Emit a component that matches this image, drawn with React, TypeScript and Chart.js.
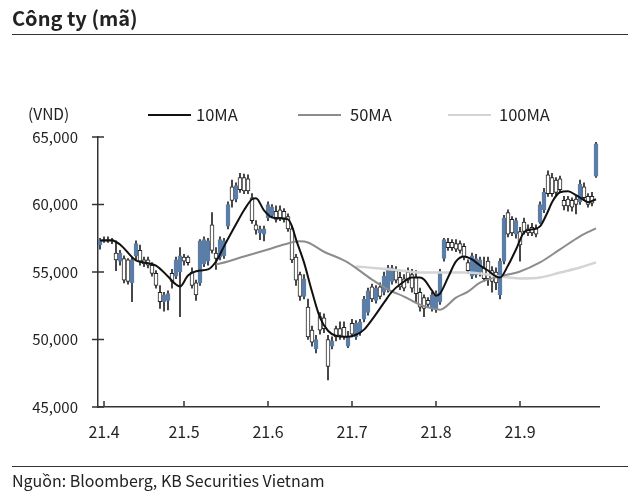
import React, { useEffect, useRef } from "react";
import { Chart, registerables } from "chart.js";

Chart.register(...registerables);

// ---- data ----
const OPEN = [
  57000, 57400, 57400, 57400, 56400, 55800, 56000, 55900, 54200, 56200,
  56600, 55900, 55900, 55500, 54900, 53500, 52800, 52900, 54900, 54700,
  55000, 56100, 56100, 55000, 54200, 54200, 55600, 55800, 58500, 56400,
  56100, 56200, 58400, 61300, 60400, 62000, 62000, 61900, 60500, 58500,
  57900, 57800, 59000, 59200, 59500, 59600, 59500, 59100, 58200, 56100,
  54800, 53200, 52400, 50700, 49300, 51700, 51600, 50000, 49500, 50800,
  50800, 50900, 49500, 51200, 50200, 50500, 51500, 52000, 53900, 52900,
  53900, 53500, 53700, 54300, 55100, 54600, 54500, 55000, 54800, 54600,
  53500, 53100, 52900, 52300, 52200, 52800, 56000, 57200, 57200, 57100,
  57100, 56900, 55700, 54700, 54800, 55000, 55300, 55800, 55100, 55000,
  53300, 55800, 59400, 58900, 57800, 58000, 58700, 58200, 58300, 58200,
  58700, 59600, 62200, 62000, 61800, 61900, 60300, 60400, 60300, 60400,
  60200, 61300, 60600, 60600, 62100,
];
const CLOSE = [
  57400, 57300, 57300, 57300, 55900, 56400, 54400, 54300, 55900, 57100,
  55800, 55600, 55500, 54900, 54000, 52800, 53300, 53400, 54300, 55900,
  56200, 55800, 55700, 54000, 53300, 57300, 57400, 57300, 56600, 56000,
  57400, 57300, 60000, 60300, 61400, 61100, 61000, 61000, 58800, 58100,
  58200, 58200, 60000, 59800, 58900, 59000, 58900, 58200, 55900, 54400,
  53200, 54500, 50200, 49800, 50000, 50700, 50800, 48000, 49900, 50200,
  50300, 50200, 50200, 50400, 51200, 51300, 53000, 53600, 53000, 53800,
  53200, 54700, 55300, 55300, 54400, 53900, 53800, 54400, 53800, 53400,
  52400, 52300, 52600, 53300, 53400, 55000, 57400, 56800, 56800, 56700,
  56600, 56100, 55100, 56200, 56000, 55900, 54500, 54500, 54300, 54200,
  55800, 59000, 57800, 57900, 58800, 57000, 58000, 57900, 57900, 57800,
  60000, 60900, 60800, 60800, 60900, 61100, 59900, 59900, 59800, 60000,
  61500, 60500, 60000, 60100, 64500,
];
const HIGH = [
  57500, 57600, 57600, 57500, 57300, 56600, 56200, 56000, 56100, 57300,
  57000, 56100, 56100, 55700, 55100, 54000, 53500, 53600, 55200, 56100,
  56800, 56300, 56200, 55300, 54400, 57400, 57600, 57500, 59400, 56800,
  57600, 57500, 60200, 61800, 61600, 62300, 62250, 62200, 60800, 58800,
  58400, 58400, 60200, 60000, 59900, 59900, 59700, 59300, 58400, 56300,
  55000, 54800, 53000, 51000, 50300, 52000, 51900, 50300, 50200, 51000,
  51300, 51300, 50600, 51500, 51400, 51500, 53200, 53800, 54100, 54000,
  54200, 55000, 55500, 55500, 55400, 55000, 54800, 55300, 55200, 55100,
  53800, 53300, 53100, 53500, 53600, 55200, 57500, 57500, 57400, 57400,
  57300, 57100, 55900, 56400, 56300, 56100, 56100, 56100, 55400, 55300,
  56000, 59200, 59600, 59100, 59000, 58300, 59000, 58500, 58600, 58500,
  60200, 61200, 62500, 62300, 62000, 62100, 60600, 60600, 60500, 60600,
  61800, 61600, 60800, 60900, 64600,
];
const LOW = [
  56700, 57200, 57200, 57100, 55100, 55500, 54200, 54100, 52800, 55900,
  55500, 55400, 55300, 54700, 53800, 52300, 52100, 52200, 53800, 54500,
  51700, 55500, 55500, 53800, 52900, 54000, 55400, 55500, 56400, 55200,
  55900, 56000, 58200, 59800, 60200, 60900, 60800, 60800, 58600, 57800,
  57400, 57300, 58800, 59000, 58700, 58800, 58700, 58000, 55700, 54000,
  52900, 53000, 50000, 49500, 49000, 50400, 50500, 47000, 49300, 49900,
  50000, 50000, 49400, 50200, 50000, 50300, 51300, 51800, 52800, 52700,
  53000, 53300, 53500, 54100, 54200, 53700, 53600, 54200, 53500, 52800,
  52100, 51700, 52400, 52100, 52000, 52600, 55800, 56600, 56600, 56500,
  56400, 55900, 54900, 54500, 54600, 54700, 54300, 54000, 53500, 53700,
  53000, 55600, 57600, 57700, 57500, 55800, 57800, 57700, 57700, 57600,
  58600, 59400, 60600, 60600, 60700, 60900, 59600, 59500, 59500, 59300,
  60000, 60300, 59800, 59900, 62000,
];

const MA10_IDX = [0, 3, 5, 9, 11, 14, 17, 19, 20, 22, 25, 27, 29, 31, 34, 36, 38, 39, 41, 43, 45, 47, 48, 49, 51, 53, 55, 57, 59, 62, 64, 66, 68, 71, 73, 75, 78, 80, 81, 83, 84, 85, 87, 89, 91, 93, 95, 97, 99, 100, 102, 104, 106, 108, 110, 112, 113, 115, 117, 119, 121, 122, 124];
const MA10_VAL = [57340, 57340, 57040, 55850, 55700, 55480, 54670, 54070, 53920, 54740, 55110, 55190, 55780, 56900, 58530, 59570, 60390, 60460, 59570, 59050, 58980, 58900, 58380, 57420, 55710, 53550, 51620, 50650, 50280, 50200, 50350, 50730, 51470, 52730, 53550, 54070, 54590, 54590, 54440, 53620, 53250, 53400, 54590, 55780, 56150, 55930, 55480, 55110, 54670, 54590, 55480, 56670, 57940, 58160, 58380, 59500, 60170, 60910, 60990, 60690, 60320, 60170, 60390];

const MA50_IDX = [29, 32, 36, 42, 46, 50, 52, 56, 60, 62, 68, 72, 76, 80, 85, 89, 92, 95, 100, 105, 110, 115, 120, 124];
const MA50_VAL = [55560, 55780, 56150, 56670, 57040, 57270, 57190, 56500, 56000, 55700, 54440, 53700, 53180, 52580, 52210, 53100, 53550, 54220, 54670, 55040, 55710, 56670, 57640, 58230];

const MA100_IDX = [64, 70, 75, 80, 87, 92, 95, 100, 105, 110, 115, 120, 124];
const MA100_VAL = [55410, 55260, 55110, 54960, 54960, 54960, 54890, 54670, 54520, 54590, 54960, 55330, 55710];

const MONTH_TICK_IDX = [1, 21, 42, 63, 84, 105];
const MONTH_LABELS = ["21.4", "21.5", "21.6", "21.7", "21.8", "21.9"];
const Y_TICKS = [45000, 50000, 55000, 60000, 65000];

const FONT = '"Noto Sans CJK KR", "Noto Sans", sans-serif';
const BLUE = "#5b7ea9";
const AXIS = "#333333";
const TEXT = "#222222";

const fmt = (v: number) => String(v).replace(/\B(?=(\d{3})+(?!\d))/g, ",");

export default function App() {
  const ref = useRef<HTMLCanvasElement | null>(null);

  useEffect(() => {
    if (!ref.current) return;
    const idx = OPEN.map((_, i) => i);
    const up = idx.map((i) => CLOSE[i] >= OPEN[i]);
    const wick = idx.map((i) => ({ x: i, y: [LOW[i], HIGH[i]] }));
    const body = idx.map((i) => ({ x: i, y: [OPEN[i], CLOSE[i]] }));

    const tickPlugin = {
      id: "crossTicks",
      afterDraw(chart: any) {
        const { ctx, chartArea } = chart;
        const x = chart.scales.x;
        const y = chart.scales.y;
        ctx.save();
        ctx.strokeStyle = AXIS;
        ctx.lineWidth = 1.5;
        ctx.beginPath();
        Y_TICKS.forEach((v) => {
          const py = y.getPixelForValue(v);
          ctx.moveTo(chartArea.left - 6, py);
          ctx.lineTo(chartArea.left + 6, py);
        });
        MONTH_TICK_IDX.forEach((v) => {
          const px = x.getPixelForValue(v);
          ctx.moveTo(px, chartArea.bottom);
          ctx.lineTo(px, chartArea.bottom - 6);
        });
        ctx.stroke();
        ctx.restore();
      },
    };

    const chart = new Chart(ref.current, {
      type: "bar",
      data: {
        datasets: [
          {
            type: "line",
            label: "10MA",
            data: MA10_IDX.map((x, k) => ({ x, y: MA10_VAL[k] })),
            borderColor: "#111111",
            borderWidth: 2,
            pointRadius: 0,
            cubicInterpolationMode: "monotone",
            order: 0,
          } as any,
          {
            type: "line",
            label: "50MA",
            data: MA50_IDX.map((x, k) => ({ x, y: MA50_VAL[k] })),
            borderColor: "#8c8c8c",
            borderWidth: 2,
            pointRadius: 0,
            cubicInterpolationMode: "monotone",
            order: 0,
          } as any,
          {
            type: "line",
            label: "100MA",
            data: MA100_IDX.map((x, k) => ({ x, y: MA100_VAL[k] })),
            borderColor: "#d4d4d4",
            borderWidth: 2.5,
            pointRadius: 0,
            cubicInterpolationMode: "monotone",
            order: 0,
          } as any,
          {
            type: "bar",
            label: "body",
            data: body,
            backgroundColor: up.map((u) => (u ? BLUE : "#ffffff")),
            borderColor: up.map((u) => (u ? BLUE : "#222222")),
            borderWidth: 1,
            borderSkipped: false,
            barThickness: 4,
            grouped: false,
            order: 1,
          } as any,
          {
            type: "bar",
            label: "wick",
            data: wick,
            backgroundColor: "#222222",
            barThickness: 1,
            grouped: false,
            order: 2,
          } as any,
        ],
      },
      options: {
        animation: false,
        responsive: false,
        maintainAspectRatio: false,
        layout: { padding: { top: 137, right: 41, left: 0, bottom: 0 } },
        plugins: { legend: { display: false }, tooltip: { enabled: false } },
        scales: {
          x: {
            type: "linear",
            min: -0.5,
            max: 124.75,
            offset: false,
            grid: { display: false, drawTicks: false },
            border: { display: true, color: AXIS, width: 1.5 },
            afterBuildTicks: (s: any) => {
              s.ticks = MONTH_TICK_IDX.map((v) => ({ value: v }));
            },
            afterFit: (s: any) => {
              s.height = 90;
            },
            ticks: {
              autoSkip: false,
              maxRotation: 0,
              padding: 15,
              color: TEXT,
              font: { family: FONT, size: 16 },
              callback: (v: any) => {
                const k = MONTH_TICK_IDX.indexOf(Number(v));
                return k >= 0 ? MONTH_LABELS[k] : "";
              },
            },
          },
          y: {
            type: "linear",
            min: 45000,
            max: 65000,
            grid: { display: false, drawTicks: false },
            border: { display: true, color: AXIS, width: 1.5 },
            afterBuildTicks: (s: any) => {
              s.ticks = Y_TICKS.map((v) => ({ value: v }));
            },
            afterFit: (s: any) => {
              s.width = 98;
            },
            ticks: {
              padding: 20,
              color: TEXT,
              font: { family: FONT, size: 15 },
              callback: (v: any) => fmt(Number(v)),
            },
          },
        },
      } as any,
      plugins: [tickPlugin],
    });
    return () => chart.destroy();
  }, []);

  const legendLine = (left: number, color: string, w: number) => (
    <div style={{ position: "absolute", left, top: 115 - w / 2, width: 43, height: w, background: color }} />
  );
  const legendText = (left: number, text: string) => (
    <div style={{ position: "absolute", left, top: 103, fontSize: 16.5, lineHeight: "22px", color: TEXT }}>{text}</div>
  );

  return (
    <div
      style={{
        position: "absolute",
        left: 0,
        top: 0,
        width: 640,
        height: 497,
        background: "#ffffff",
        fontFamily: FONT,
        color: TEXT,
        overflow: "hidden",
      }}
    >
      <canvas ref={ref} width={640} height={497} style={{ position: "absolute", left: 0, top: 0, width: 640, height: 497 }} />
      <div style={{ position: "absolute", left: 12, top: 4, fontSize: 20, fontWeight: 700, lineHeight: "28px" }}>Công ty (mã)</div>
      <div style={{ position: "absolute", left: 12, top: 34, width: 616, height: 1, background: "#333" }} />
      <div style={{ position: "absolute", left: 28, top: 102, fontSize: 15.5, lineHeight: "22px" }}>(VND)</div>
      {legendLine(148, "#111111", 2)}
      {legendText(196, "10MA")}
      {legendLine(298, "#8c8c8c", 2)}
      {legendText(350, "50MA")}
      {legendLine(448, "#d4d4d4", 2.5)}
      {legendText(499, "100MA")}
      <div style={{ position: "absolute", left: 12, top: 466, width: 616, height: 1, background: "#333" }} />
      <div style={{ position: "absolute", left: 12, top: 469, fontSize: 16, lineHeight: "22px" }}>Nguồn: Bloomberg, KB Securities Vietnam</div>
    </div>
  );
}
